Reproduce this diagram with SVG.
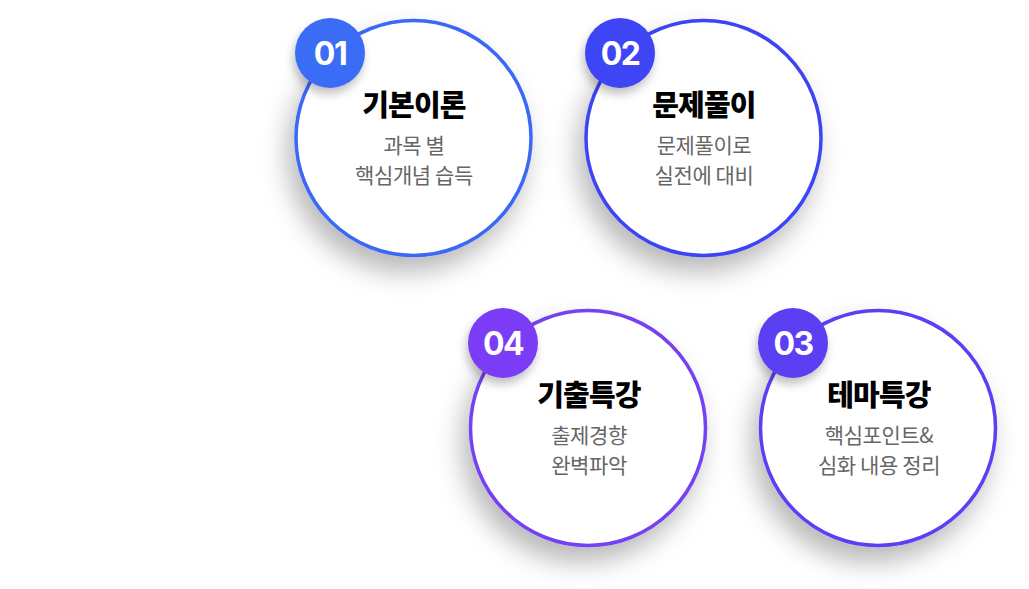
<svg xmlns="http://www.w3.org/2000/svg" width="1029" height="589" viewBox="0 0 1029 589">
<defs>
<filter id="sh" x="-40%" y="-40%" width="180%" height="180%">
<feDropShadow dx="-7" dy="15" stdDeviation="13" flood-color="#000" flood-opacity="0.28"/>
</filter>
<filter id="bsh" x="-60%" y="-60%" width="220%" height="220%">
<feDropShadow dx="-2" dy="6" stdDeviation="5" flood-color="#000" flood-opacity="0.25"/>
</filter>
</defs>
<style>
.ring{fill:#fff;stroke-width:3.5}
.num{font-family:Inter,"Noto Sans",sans-serif;font-weight:700;font-size:32px;fill:#fff;text-anchor:middle;letter-spacing:-1.5px}
.ttl{font-family:"Noto Sans CJK KR",sans-serif;font-weight:900;font-size:29px;fill:#000;text-anchor:middle;letter-spacing:-0.8px}
.sub{font-family:"Noto Sans CJK KR",sans-serif;font-weight:400;font-size:21px;fill:#666;text-anchor:middle;letter-spacing:-0.4px}
</style>
<rect width="1029" height="589" fill="#fff"/>
<g id="connectors"></g>
<g id="node1">
<circle class="ring" cx="413.5" cy="138" r="117.5" stroke="#3b68f5" filter="url(#sh)"/>
<circle cx="330" cy="53" r="35" fill="#3b6cf6" filter="url(#bsh)"/>
<text class="num" x="330" y="65">01</text>
<text class="ttl" x="414" y="116">기본이론</text>
<text class="sub" x="414" y="153">과목 별</text>
<text class="sub" x="414" y="183">핵심개념 습득</text>
</g>
<g id="node2">
<circle class="ring" cx="703.5" cy="138" r="117.5" stroke="#3d45f2" filter="url(#sh)"/>
<circle cx="620" cy="53" r="35" fill="#3c44f5" filter="url(#bsh)"/>
<text class="num" x="620" y="65">02</text>
<text class="ttl" x="704" y="116">문제풀이</text>
<text class="sub" x="704" y="153">문제풀이로</text>
<text class="sub" x="704" y="183">실전에 대비</text>
</g>
<g id="node4">
<circle class="ring" cx="588" cy="428" r="117.5" stroke="#7442f3" filter="url(#sh)"/>
<circle cx="503" cy="343" r="35" fill="#7a3ef5" filter="url(#bsh)"/>
<text class="num" x="503" y="355">04</text>
<text class="ttl" x="589" y="406">기출특강</text>
<text class="sub" x="589" y="443">출제경향</text>
<text class="sub" x="589" y="473">완벽파악</text>
</g>
<g id="node3">
<circle class="ring" cx="878" cy="428" r="117.5" stroke="#5a40f2" filter="url(#sh)"/>
<circle cx="793" cy="343" r="35" fill="#5a3ff2" filter="url(#bsh)"/>
<text class="num" x="793" y="355">03</text>
<text class="ttl" x="879" y="406">테마특강</text>
<text class="sub" x="879" y="443">핵심포인트&amp;</text>
<text class="sub" x="879" y="473">심화 내용 정리</text>
</g>
</svg>
